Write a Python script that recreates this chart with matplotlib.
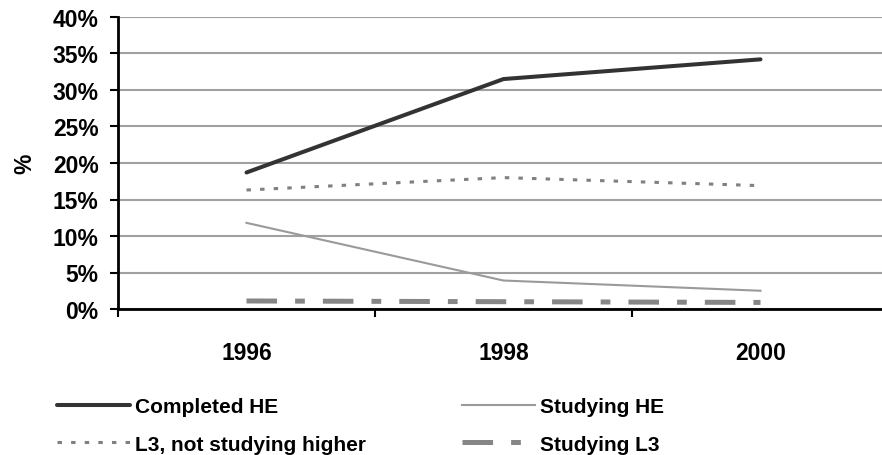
import numpy as np
import matplotlib
matplotlib.use('Agg')
import matplotlib.pyplot as plt

# Data
years = ['1996', '1998', '2000']
completed_he = [18.7, 31.5, 34.2]
l3_not_studying = [16.3, 18.0, 16.9]
studying_he = [11.8, 3.9, 2.5]
studying_l3 = [1.1, 1.0, 0.9]
y_ticks = [0, 5, 10, 15, 20, 25, 30, 35, 40]

plt.rcParams['font.family'] = ['Liberation Sans', 'DejaVu Sans']
plt.rcParams['font.weight'] = 'bold'
plt.rcParams['lines.scale_dashes'] = False

fig = plt.figure(figsize=(8.82, 4.56), dpi=100)
# plot area runs past the right edge of the figure, as in the reference
ax = fig.add_axes([118 / 882, 1 - 310 / 456, 771 / 882, 292 / 456])

x = np.arange(len(years)) + 0.5

ax.plot(x, completed_he, color='#333333', lw=2.9, solid_capstyle='round',
        label='Completed HE', zorder=5)
ax.plot(x, l3_not_studying, color='#808080', lw=2.2, dashes=(3.2, 6.6),
        dash_capstyle='butt', label='L3, not studying higher', zorder=4)
ax.plot(x, studying_he, color='#9a9a9a', lw=1.5, label='Studying HE', zorder=4)
ax.plot(x, studying_l3, color='#868686', lw=3.6, dashes=(22, 13, 7, 13),
        dash_capstyle='butt', label='Studying L3', zorder=4)

ax.set_xlim(0, 3)
ax.set_ylim(0, 40)

# category labels between tick marks
ax.set_xticks(x)
ax.set_xticklabels(years, fontsize=16.5, fontweight='bold')
ax.tick_params(axis='x', which='major', length=0, pad=23)
ax.set_xticks([0, 1, 2, 3], minor=True)
ax.tick_params(axis='x', which='minor', length=6, width=1.5, direction='out')

ax.set_yticks(y_ticks)
ax.set_yticklabels([f'{v}%' for v in y_ticks], fontsize=16.5, fontweight='bold')
ax.tick_params(axis='y', length=6, width=1.5, direction='out', pad=8)
ax.set_ylabel('%', fontsize=16.5, fontweight='bold', labelpad=12)

ax.grid(axis='y', color='#a0a0a0', lw=1.5)
ax.set_axisbelow(True)
for s in ['top', 'right']:
    ax.spines[s].set_visible(False)
ax.spines['left'].set_linewidth(2)
ax.spines['bottom'].set_linewidth(2)

handles, labels = ax.get_legend_handles_labels()
fig.legend(handles, labels, loc='upper left', bbox_to_anchor=(57 / 882, 1 - 398 / 456),
           ncol=2, frameon=False, handlelength=3.5, handletextpad=0.25,
           columnspacing=4.6, labelspacing=0.9, borderpad=0, borderaxespad=0,
           prop={'weight': 'bold', 'size': 15})

fig.savefig('out.png', dpi=100)
